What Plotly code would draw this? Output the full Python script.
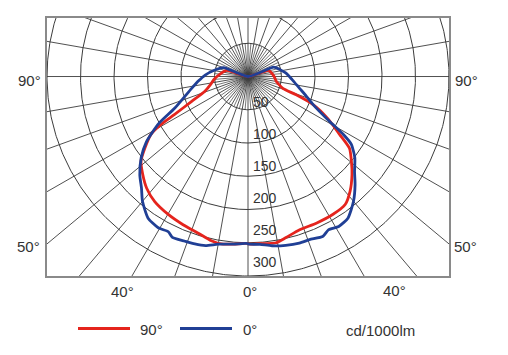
import numpy as np
import plotly.graph_objects as go

# ---- data (gamma in degrees from nadir, intensity in cd/1000lm) ----
c0_left_gamma = [0, 5, 10, 14, 17.5, 21, 25, 27, 30.5, 35, 40, 43.5, 47.5, 52.5, 57, 62, 66.5, 72, 78, 85, 92, 100, 110, 112]
c0_left_I     = [251, 253, 256, 262, 264, 265, 267, 262, 264, 260, 245, 231, 219, 201, 181, 151, 119, 100, 86, 74, 64, 52, 39, 0]

c0_right_gamma = [0, 4, 8, 12.5, 17, 20.5, 25, 27.5, 31, 35, 40, 44.5, 48, 52.5, 56.5, 58.5, 61, 66.5, 72, 77, 86, 95, 102, 110, 112]
c0_right_I     = [252, 253, 257, 260, 262, 262, 265, 260, 263, 260, 245, 228, 214, 201, 185, 167, 139, 106, 90, 79, 66, 57, 49, 41, 0]

c90_left_gamma = [0, 5, 9, 12.5, 17.5, 23.5, 30, 36.5, 42, 47, 51.5, 55, 59, 61, 62.5, 66, 71, 78, 85, 95, 106, 108]
c90_left_I     = [251, 253, 255, 253, 247, 243, 239, 234, 226, 215, 204, 188, 169, 148, 124, 92, 68, 57, 51, 42, 33, 0]

c90_right_gamma = [0, 4, 9.5, 13, 18.5, 25, 31.5, 37, 41.5, 46.5, 50.5, 54.5, 57.5, 62, 66.5, 69, 71, 76, 80, 90, 100, 107, 109]
c90_right_I     = [252, 252, 253.5, 249, 243, 243, 243, 241, 230, 214, 200, 186, 162, 135, 106, 77, 55, 47, 43, 39, 35, 32, 0]

radial_ticks = [50, 100, 150, 200, 250, 300]
series_names = ["90°", "0°"]
unit_label = "cd/1000lm"

RED = "#e5241d"
BLUE = "#203f95"
GRID = "#3c3c3c"
TXT = "#333333"
FONT = "Arial, Liberation Sans, sans-serif"

OFF = 8  # page body margin in the browser
W, H = 508, 355
PW, PH = 402, 260          # plot area size
ML = 47 - OFF
MT = 16 - OFF
MR = W - ML - PW
MB = H - MT - PH
RMAX = 300
YTOP = 88


def px(xp, yp):
    """reference-image pixel -> paper coords"""
    return (xp - 47) / PW, (16 + PH - yp) / PH


def to_xy(gam, inten, side):
    g = np.radians(np.asarray(gam, float))
    r = np.asarray(inten, float)
    return side * r * np.sin(g), -r * np.cos(g)


fig = go.Figure()

# circles
cx, cy = [], []
t = np.linspace(0, 2 * np.pi, 721)
for r in radial_ticks:
    cx += list(r * np.sin(t)) + [None]
    cy += list(-r * np.cos(t)) + [None]
fig.add_trace(go.Scatter(x=cx, y=cy, mode="lines", line=dict(color=GRID, width=1),
                         hoverinfo="skip", showlegend=False))

# radial lines every 10 deg (full length)
rx, ry = [], []
for a in range(0, 360, 10):
    ar = np.radians(a)
    rx += [0, 600 * np.sin(ar), None]
    ry += [0, -600 * np.cos(ar), None]
fig.add_trace(go.Scatter(x=rx, y=ry, mode="lines", line=dict(color=GRID, width=0.9),
                         hoverinfo="skip", showlegend=False))
# extra 5 deg lines inside first circle
ix, iy = [], []
for a in range(5, 360, 10):
    ar = np.radians(a)
    ix += [0, radial_ticks[0] * np.sin(ar), None]
    iy += [0, -radial_ticks[0] * np.cos(ar), None]
fig.add_trace(go.Scatter(x=ix, y=iy, mode="lines", line=dict(color=GRID, width=0.7),
                         hoverinfo="skip", showlegend=False))


def curve(lg, li, rg, ri, color):
    xl, yl = to_xy(lg, li, -1)
    xr, yr = to_xy(rg, ri, 1)
    x = list(xl[::-1]) + list(xr)
    y = list(yl[::-1]) + list(yr)
    fig.add_trace(go.Scatter(x=x, y=y, mode="lines",
                             line=dict(color=color, width=2.8, shape="spline", smoothing=0.6),
                             hoverinfo="skip", showlegend=False))


curve(c90_left_gamma, c90_left_I, c90_right_gamma, c90_right_I, RED)
curve(c0_left_gamma, c0_left_I, c0_right_gamma, c0_right_I, BLUE)

annotations = []
# radial value labels
for v in radial_ticks:
    annotations.append(dict(x=4.5, y=-0.965 * v + 10, xref="x", yref="y", text=str(v),
                            showarrow=False, xanchor="left", yanchor="middle",
                            font=dict(size=14, color=TXT, family=FONT)))

# angle labels
angle_labels = [("90°", 29, 79), ("90°", 466, 79), ("50°", 28, 246), ("50°", 465, 246),
                ("40°", 122, 292), ("40°", 394, 291), ("0°", 250, 292)]
for txt, xp, yp in angle_labels:
    ax, ay = px(xp, yp)
    annotations.append(dict(x=ax, y=ay, xref="paper", yref="paper", text=txt, showarrow=False,
                            xanchor="center", yanchor="middle",
                            font=dict(size=15, color=TXT, family=FONT)))

# legend
shapes = []
for (x0, x1, col, name, tx) in [(78, 130, RED, series_names[0], 151), (180, 232, BLUE, series_names[1], 250)]:
    p0 = px(x0, 329)
    p1 = px(x1, 329)
    shapes.append(dict(type="line", xref="paper", yref="paper", x0=p0[0], y0=p0[1], x1=p1[0], y1=p1[1],
                       line=dict(color=col, width=3)))
    tp = px(tx, 330)
    annotations.append(dict(x=tp[0], y=tp[1], xref="paper", yref="paper", text=name, showarrow=False,
                            xanchor="center", yanchor="middle",
                            font=dict(size=15, color=TXT, family=FONT)))
up = px(380, 331)
annotations.append(dict(x=up[0], y=up[1], xref="paper", yref="paper", text=unit_label, showarrow=False,
                        xanchor="center", yanchor="middle",
                        font=dict(size=15, color=TXT, family=FONT)))

axis_common = dict(showgrid=False, zeroline=False, showticklabels=False, ticks="",
                   showline=True, mirror=True, linecolor="#8a8a8a", linewidth=1.5, fixedrange=True)

fig.update_layout(
    width=W, height=H,
    margin=dict(l=ML, r=MR, t=MT, b=MB, pad=0),
    paper_bgcolor="white", plot_bgcolor="white",
    showlegend=False,
    xaxis=dict(range=[-RMAX, RMAX], **axis_common),
    yaxis=dict(range=[-RMAX, YTOP], **axis_common),
    annotations=annotations,
    shapes=shapes,
)

fig.write_html("out.html")
